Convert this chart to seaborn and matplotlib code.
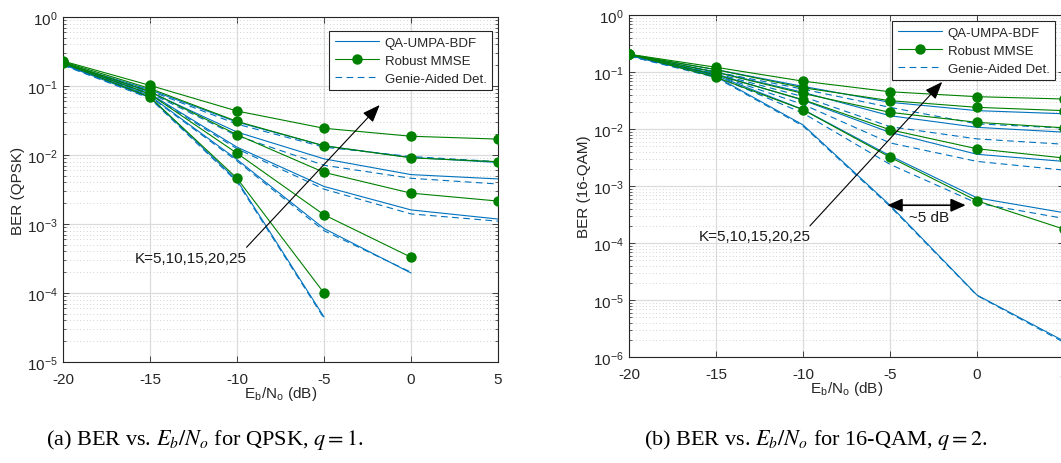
import numpy as np
import pandas as pd
import matplotlib
matplotlib.use("Agg")
import matplotlib.pyplot as plt
from matplotlib.lines import Line2D
from matplotlib.ticker import LogLocator, NullFormatter, FixedLocator
import seaborn as sns

# ---- data -------------------------------------------------------------
snr_db = [-20, -15, -10, -5, 0, 5]
users = [5, 10, 15, 20, 25]
nan = np.nan

# QPSK (q = 1), one row per K
qpsk_umpa = [
    [0.205, 0.068, 0.0043, 4.5e-5, nan, nan],
    [0.21, 0.072, 0.0086, 8.6e-4, 1.95e-4, nan],
    [0.21, 0.077, 0.0130, 0.0035, 0.0016, 0.00118],
    [0.21, 0.082, 0.0215, 0.0088, 0.0052, 0.0045],
    [0.215, 0.088, 0.030, 0.0136, 0.0092, 0.0078],
]
qpsk_mmse = [
    [0.215, 0.069, 0.0046, 1.0e-4, nan, nan],
    [0.22, 0.076, 0.0106, 0.00136, 0.00033, nan],
    [0.22, 0.083, 0.0197, 0.0056, 0.0028, 0.00215],
    [0.225, 0.092, 0.0307, 0.0136, 0.0091, 0.0080],
    [0.23, 0.102, 0.0434, 0.0244, 0.0187, 0.0170],
]
qpsk_genie = [
    [0.20, 0.066, 0.0041, 4.3e-5, nan, nan],
    [0.205, 0.070, 0.0082, 8.0e-4, 2.0e-4, nan],
    [0.205, 0.075, 0.0123, 0.0032, 0.0014, 0.0011],
    [0.205, 0.079, 0.019, 0.0071, 0.0046, 0.0038],
    [0.21, 0.085, 0.028, 0.0130, 0.0095, 0.0080],
]

# 16-QAM (q = 2), one row per K
qam_umpa = [
    [0.195, 0.083, 0.0118, 4.6e-4, 1.22e-5, 1.9e-6],
    [0.195, 0.087, 0.022, 0.0034, 6.2e-4, 3.4e-4],
    [0.20, 0.092, 0.032, 0.0087, 0.0036, 0.0027],
    [0.20, 0.100, 0.044, 0.0171, 0.0107, 0.0088],
    [0.20, 0.110, 0.056, 0.0294, 0.021, 0.0185],
]
qam_mmse = [
    [0.205, 0.081, 0.0218, 0.0032, 5.5e-4, 1.75e-4],
    [0.205, 0.089, 0.0327, 0.0097, 0.0045, 0.0031],
    [0.205, 0.099, 0.0420, 0.0196, 0.0131, 0.0105],
    [0.205, 0.110, 0.0530, 0.0314, 0.0240, 0.0210],
    [0.205, 0.121, 0.0690, 0.0450, 0.0369, 0.0336],
]
qam_genie = [
    [0.19, 0.080, 0.0113, 4.4e-4, 1.2e-5, 1.8e-6],
    [0.19, 0.084, 0.019, 0.0024, 5.0e-4, 2.7e-4],
    [0.195, 0.088, 0.027, 0.0057, 0.0027, 0.0019],
    [0.195, 0.094, 0.037, 0.011, 0.0067, 0.0054],
    [0.195, 0.100, 0.050, 0.024, 0.0123, 0.0104],
]

series_names = ["QA-UMPA-BDF", "Robust MMSE", "Genie-Aided Det."]
user_label = "K=5,10,15,20,25"
captions = [r"(a) BER vs. $E_b/N_o$ for QPSK, $q = 1$.",
            r"(b) BER vs. $E_b/N_o$ for 16-QAM, $q = 2$."]

# ---- style ------------------------------------------------------------
sns.set_theme(style="white")
plt.rcParams["font.family"] = ["Liberation Sans", "DejaVu Sans"]
plt.rcParams["mathtext.fontset"] = "stix"
plt.rcParams["axes.unicode_minus"] = False

BLUE = "#0072BD"
GREEN = "#008000"
FS = 11
INK = "#262626"

fig = plt.figure(figsize=(10.61, 4.64), dpi=100)
W, H = 1061, 464
ax_a = fig.add_axes([63 / W, 1 - 363 / H, 435 / W, 345 / H])
ax_b = fig.add_axes([629 / W, 1 - 358 / H, 435 / W, 342 / H])


def line(ax, vals, **kw):
    df = pd.DataFrame({"snr": snr_db, "ber": vals}).dropna()
    sns.lineplot(data=df, x="snr", y="ber", ax=ax, estimator=None,
                 sort=False, legend=False, **kw)


def panel(ax, umpa, mmse, genie, ylim, ylabel, leg_anchor):
    ax.set_yscale("log")
    for vals in umpa:
        line(ax, vals, color=BLUE, lw=0.8, zorder=3)
    for vals in genie:
        line(ax, vals, color=BLUE, lw=0.8, linestyle=(0, (6, 4)), zorder=3)
    for vals in mmse:
        line(ax, vals, color=GREEN, lw=0.8, marker="o", markersize=7.5,
             markeredgewidth=0, zorder=4)

    ax.set_xlim(-20, 5)
    ax.set_ylim(*ylim)
    ax.xaxis.set_major_locator(FixedLocator(snr_db))
    ax.yaxis.set_major_locator(LogLocator(base=10, numticks=20))
    ax.yaxis.set_minor_locator(LogLocator(base=10, subs=np.arange(2, 10), numticks=20))
    ax.yaxis.set_minor_formatter(NullFormatter())

    ax.grid(which="major", color="#dcdcdc", lw=0.9, ls="-", zorder=0)
    ax.grid(which="minor", axis="y", color="#c4c4c4", lw=0.6, ls=(0, (1, 3)), zorder=0)
    ax.set_axisbelow(True)

    ax.tick_params(which="both", direction="in", top=True, right=True,
                   bottom=True, left=True, colors=INK, labelsize=FS,
                   labelcolor=INK)
    ax.tick_params(which="major", length=4.5, width=0.6)
    ax.tick_params(axis="x", which="major", pad=7)
    ax.tick_params(axis="y", which="major", pad=4)
    ax.tick_params(which="minor", length=2.5, width=0.5)
    for s in ax.spines.values():
        s.set_color(INK)
        s.set_linewidth(0.8)

    ax.set_xlabel(r"E$_\mathregular{b}$/N$_\mathregular{o}$ (dB)", fontsize=FS,
                  color=INK, labelpad=-1)
    ax.set_ylabel(ylabel, fontsize=FS, color=INK, labelpad=1)

    handles = [
        Line2D([], [], color=BLUE, lw=0.8),
        Line2D([], [], color=GREEN, lw=0.8, marker="o", markersize=7.5,
               markeredgewidth=0),
        Line2D([], [], color=BLUE, lw=0.8, linestyle=(0, (6, 4))),
    ]
    leg = ax.legend(handles, series_names, loc="upper right",
                    bbox_to_anchor=leg_anchor, fontsize=9.5, frameon=True,
                    fancybox=False, framealpha=1, edgecolor=INK,
                    handlelength=3.4, handletextpad=0.4, borderpad=0.4,
                    labelspacing=0.45, borderaxespad=0)
    leg.get_frame().set_linewidth(0.8)
    leg.set_zorder(10)


panel(ax_a, qpsk_umpa, qpsk_mmse, qpsk_genie, (1e-5, 1), "BER (QPSK)",
      (0.986, 0.959))
panel(ax_b, qam_umpa, qam_mmse, qam_genie, (1e-6, 1), "BER (16-QAM)",
      (0.979, 0.982))

arrow_kw = dict(arrowstyle="-|>,head_length=0.9,head_width=0.35",
                color="black", lw=0.8, mutation_scale=12, shrinkA=0, shrinkB=0)

# user-count arrows
ax_a.annotate("", xy=(-1.8, 0.053), xytext=(-9.45, 4.6e-4), arrowprops=arrow_kw, zorder=6)
ax_a.text(-12.65, 3.2e-4, user_label, fontsize=FS, ha="center", va="center",
          color="#1a1a1a", zorder=6)
ax_b.annotate("", xy=(-2.0, 0.067), xytext=(-9.6, 2.0e-4), arrowprops=arrow_kw, zorder=6)
ax_b.text(-12.8, 1.35e-4, user_label, fontsize=FS, ha="center", va="center",
          color="#1a1a1a", zorder=6)

# SNR gap marker
ax_b.annotate("", xy=(-5.15, 4.6e-4), xytext=(-0.65, 4.6e-4),
              arrowprops=dict(arrowstyle="<|-|>,head_length=0.9,head_width=0.4",
                              color="black", lw=1.2, mutation_scale=10,
                              shrinkA=0, shrinkB=0), zorder=6)
ax_b.text(-2.75, 2.85e-4, "~5 dB", fontsize=FS, ha="center", va="center",
          color="#1a1a1a", zorder=6)

# sub-figure captions
for xc, cap in zip([205 / W, 816 / W], captions):
    fig.text(xc, 1 - 440 / H, cap, ha="center", va="center", fontsize=16,
             family="Liberation Serif", color="black")

fig.savefig("out.png", dpi=100)
